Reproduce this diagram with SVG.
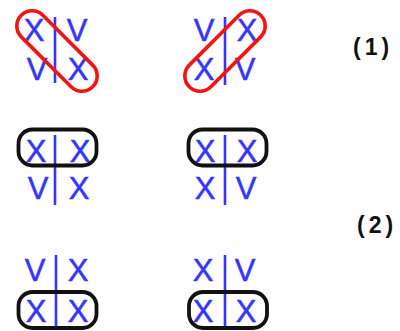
<svg xmlns="http://www.w3.org/2000/svg" width="400" height="331" viewBox="0 0 400 331">
<style>
.t{font-family:"Liberation Sans",Arial,sans-serif;font-size:31px;fill:#3535ff;stroke:#3535ff;stroke-width:0.5;text-anchor:middle}
.bar{stroke:#3535ff;stroke-width:2.6;fill:none}
.red{fill:none;stroke:#f01414;stroke-width:3.6}
.blk{fill:none;stroke:#111;stroke-width:3.8}
.lab{font-family:"Liberation Sans",Arial,sans-serif;font-size:23px;font-weight:bold;fill:#111;letter-spacing:4px}
</style>
<rect width="400" height="331" fill="#fff"/>
<g id="panel1">
<text class="t" x="34" y="41">X</text><text class="t" x="77" y="41">V</text>
<text class="t" x="37" y="80">V</text><text class="t" x="78" y="80">X</text>
<line class="bar" x1="55" y1="17" x2="55" y2="83"/>
<rect class="red" x="-50.5" y="-15.25" width="101" height="30.5" rx="15.25" transform="translate(57 51) rotate(45)"/>
</g>
<g id="panel2">
<text class="t" x="204" y="41">V</text><text class="t" x="247" y="41">X</text>
<text class="t" x="204" y="80">X</text><text class="t" x="245" y="80">V</text>
<line class="bar" x1="225" y1="17" x2="225" y2="85"/>
<rect class="red" x="-50.5" y="-15.25" width="101" height="30.5" rx="15.25" transform="translate(225 51) rotate(-45)"/>
</g>
<g id="panel3">
<text class="t" x="36" y="162">X</text><text class="t" x="80" y="162">X</text>
<text class="t" x="38" y="199">V</text><text class="t" x="79" y="199">X</text>
<line class="bar" x1="55" y1="135" x2="55" y2="205"/>
<rect class="blk" x="18.5" y="129.5" width="78" height="36" rx="14"/>
</g>
<g id="panel4">
<text class="t" x="205" y="162">X</text><text class="t" x="247" y="162">X</text>
<text class="t" x="205" y="199">X</text><text class="t" x="246" y="199">V</text>
<line class="bar" x1="225" y1="135" x2="225" y2="205"/>
<rect class="blk" x="188.5" y="129.5" width="78" height="36" rx="14"/>
</g>
<g id="panel5">
<text class="t" x="35" y="281">V</text><text class="t" x="78" y="281">X</text>
<text class="t" x="36" y="322">X</text><text class="t" x="78" y="322">X</text>
<line class="bar" x1="56" y1="255" x2="56" y2="327"/>
<rect class="blk" x="18.5" y="292" width="78" height="36" rx="14"/>
</g>
<g id="panel6">
<text class="t" x="203" y="281">X</text><text class="t" x="245" y="281">V</text>
<text class="t" x="203" y="322">X</text><text class="t" x="246" y="322">X</text>
<line class="bar" x1="225" y1="255" x2="225" y2="327"/>
<rect class="blk" x="189" y="292" width="78" height="36" rx="14"/>
</g>
<g id="label1"><text class="lab" x="353" y="55">(1)</text></g>
<g id="label2"><text class="lab" x="357" y="233">(2)</text></g>
</svg>
